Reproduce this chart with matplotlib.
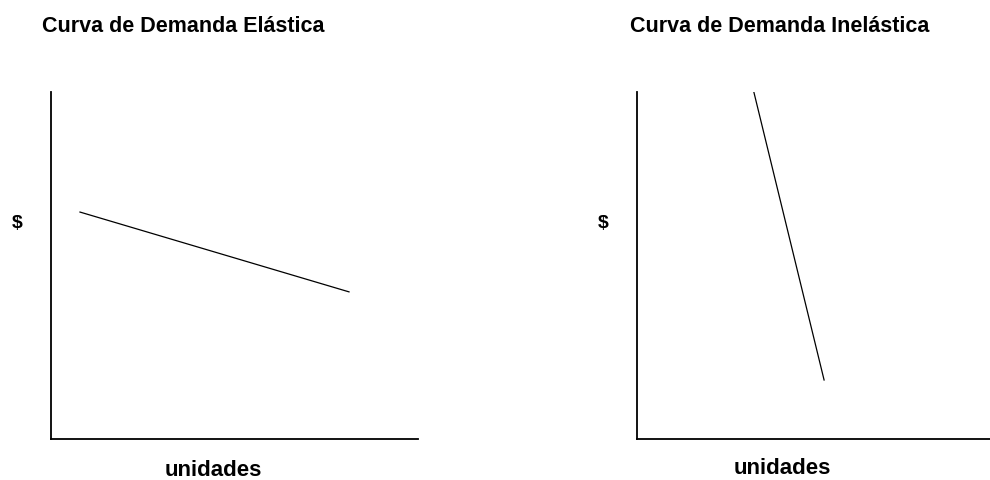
import matplotlib
matplotlib.use("Agg")
import matplotlib.pyplot as plt

# Datos (unidades arbitrarias, ejes 0-10)
titulos = ["Curva de Demanda Elástica", "Curva de Demanda Inelástica"]
etiqueta_x = "unidades"
etiqueta_y = "$"

elastica_x = [0.79, 8.12]
elastica_y = [6.54, 4.24]

inelastica_x = [3.31, 5.30]
inelastica_y = [10.0, 1.70]

W, H = 990, 480
fig = plt.figure(figsize=(W / 100, H / 100), dpi=100)
fig.patch.set_facecolor("white")

fuente = dict(family="Liberation Sans", fontweight="bold", color="black")

# posiciones de los ejes en pixeles: (izq, der, arriba, abajo)
paneles = [
    (51, 418, 92, 439, elastica_x, elastica_y),
    (637, 990, 92, 439, inelastica_x, inelastica_y),
]
pos_titulo = [(183, 27), (780, 27)]
pos_dolar = [(17, 223), (603, 223)]
pos_unidades = [(213, 470), (782, 468)]

for i, (x0, x1, y0, y1, xs, ys) in enumerate(paneles):
    ax = fig.add_axes([x0 / W, 1 - y1 / H, (x1 - x0) / W, (y1 - y0) / H])
    ax.plot(xs, ys, color="black", linewidth=0.9)
    ax.set_xlim(0, 10)
    ax.set_ylim(0, 10)
    ax.spines["top"].set_visible(False)
    ax.spines["right"].set_visible(False)
    ax.spines["left"].set_linewidth(1.3)
    ax.spines["bottom"].set_linewidth(1.3)
    ax.set_xticks([])
    ax.set_yticks([])
    ax.patch.set_alpha(0)

    tx, ty = pos_titulo[i]
    fig.text(tx / W, 1 - ty / H, titulos[i], ha="center", va="center", fontsize=15.5, **fuente)
    dx, dy = pos_dolar[i]
    fig.text(dx / W, 1 - dy / H, etiqueta_y, ha="center", va="center", fontsize=14, **fuente)
    ux, uy = pos_unidades[i]
    fig.text(ux / W, 1 - uy / H, etiqueta_x, ha="center", va="center", fontsize=16, **fuente)

fig.savefig("out.png", dpi=100, facecolor="white")
